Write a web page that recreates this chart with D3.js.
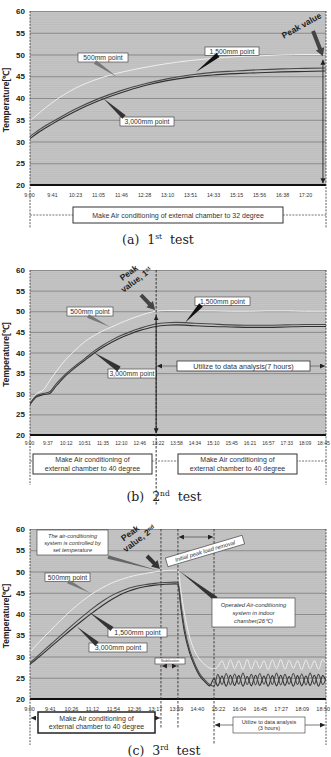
<!DOCTYPE html>
<html>
<head>
<meta charset="utf-8">
<script src="https://cdn.jsdelivr.net/npm/d3@7"></script>
<style>
  body { margin: 0; background: #fff; }
  svg { display: block; }
  text { font-family: "Liberation Sans", Arial, sans-serif; }
</style>
</head>
<body>
<script>
/* Data -------------------------------------------------------------------- */

const yTicks = [20, 25, 30, 35, 40, 45, 50, 55, 60];

// (a) 1st test
const ticksA = ["9:00", "9:41", "10:23", "11:05", "11:46", "12:28", "13:10",
    "13:51", "14:33", "15:15", "15:56", "16:38", "17:20"];
const xA = [0, 0.5, 1, 1.5, 2, 3, 4, 5, 6, 7, 8, 9, 10, 11, 12, 12.9];
const a500 = [34.5, 36.8, 38.9, 40.7, 42.2, 44.4, 45.9, 47, 47.9, 48.6, 49.1, 49.5, 49.7, 49.9, 50, 50];
const a1500 = [31, 32.9, 34.5, 36, 37.4, 39.8, 41.7, 43.2, 44.4, 45.3, 45.9, 46.2, 46.5, 46.7, 46.8, 46.9];
const a3000 = [30.5, 32.4, 34, 35.5, 36.9, 39.3, 41.2, 42.8, 44, 44.8, 45.3, 45.6, 45.8, 46, 46.1, 46.2];

// (b) 2nd test
const ticksB = ["9:00", "9:37", "10:12", "10:51", "11:35", "12:10", "12:46",
    "13:22", "13:58", "14:34", "15:10", "15:45", "16:21", "16:57", "17:33", "18:09", "18:45"];
const xB = [0, 0.4, 0.8, 1.1, 1.5, 2, 2.5, 3, 3.5, 4, 4.5, 5, 5.5, 6, 6.5, 6.9,
    7.5, 8, 9, 10, 11, 12, 13, 14, 15, 16.2];
const b500 = [27.5, 30, 31, 33, 35.5, 38.3, 40.5, 42.5, 44, 45.2, 46.2, 47.2, 48.1, 48.9, 49.6, 50,
    50.2, 50.2, 50.1, 50.1, 50, 50, 50.1, 50.1, 50, 50];
const b1500 = [27.3, 29.5, 30.1, 30.4, 32.5, 34.8, 36.7, 38.4, 40.2, 41.7, 43, 44.1, 45, 45.8, 46.5, 46.9,
    47.2, 47.3, 47.1, 46.9, 46.7, 46.6, 46.6, 46.7, 46.8, 46.8];
const b3000 = [27, 29.2, 29.8, 30, 32, 34.4, 36.3, 38, 39.7, 41.2, 42.5, 43.6, 44.5, 45.3, 45.9, 46.3,
    46.6, 46.7, 46.5, 46.3, 46.2, 46.1, 46.1, 46.2, 46.3, 46.3];

// (c) 3rd test
const ticksC = ["9:00", "9:41", "10:26", "11:12", "11:54", "12:36", "13:17",
    "13:59", "14:40", "15:22", "16:04", "16:45", "17:27", "18:09", "18:50"];
const xC = [0, 0.5, 1, 1.5, 2, 2.5, 3, 3.5, 4, 4.5, 5, 5.5, 6, 6.5, 7, 7.1,
    7.25, 7.4, 7.66, 7.9, 8.13, 8.4, 8.61, 8.82,
    9, 9.2, 9.4, 9.6, 9.8, 10, 10.2, 10.4, 10.6, 10.8, 11, 11.2, 11.4, 11.6, 11.8,
    12, 12.2, 12.4, 12.6, 12.8, 13, 13.2, 13.4, 13.6, 13.8, 14, 14.16];
const c500 = [30.8, 33.5, 36, 38.5, 40.8, 42.9, 44.7, 46.2, 47.4, 48.3, 49, 49.5, 49.9, 50.2, 50.3, 50.3,
    45, 40.5, 34.5, 31.3, 29.4, 28, 27.3, 27,
    27.6, 29, 27, 29.2, 27.1, 29, 26.9, 29.3, 27, 29.1, 27.2, 29, 26.9, 29.2, 27.1,
    29.3, 27, 29.1, 27.2, 29, 26.9, 29.2, 27.1, 29, 27, 29.3, 28.2];
const c1500 = [28.3, 30.5, 32.7, 34.9, 37.1, 39.2, 41.2, 43, 44.5, 45.6, 46.4, 46.9, 47.2, 47.4, 47.5, 47.4,
    42, 37, 31.5, 28.3, 26, 24.4, 23.4, 23,
    25.8, 23.4, 26, 23.3, 25.9, 23.5, 26.1, 23.4, 25.8, 23.3, 26, 23.5, 25.9, 23.4, 26.1,
    23.3, 25.8, 23.5, 26, 23.4, 25.9, 23.3, 26.1, 23.5, 25.8, 23.4, 24.9];
const c3000 = [28, 30, 32.1, 34.2, 36.3, 38.3, 40.2, 42, 43.6, 44.9, 45.8, 46.4, 46.8, 47, 47.1, 47,
    41, 36, 30.8, 27.7, 25.5, 24, 23.1, 24.8,
    23.1, 25.4, 23, 25.6, 23.2, 25.5, 23, 25.3, 23.1, 25.6, 23.2, 25.4, 23, 25.5, 23.1,
    25.6, 23.2, 25.3, 23, 25.5, 23.1, 25.4, 23.2, 25.6, 23, 25.5, 24.2];

/* Helpers ----------------------------------------------------------------- */

const svg = d3.select("body").append("svg")
    .attr("width", 331)
    .attr("height", 757);

svg.append("rect").attr("width", 331).attr("height", 757).attr("fill", "#fff");

const defs = svg.append("defs");
defs.append("marker")
    .attr("id", "arr")
    .attr("viewBox", "0 0 8 8")
    .attr("refX", 8).attr("refY", 4)
    .attr("markerWidth", 5).attr("markerHeight", 5)
    .attr("markerUnits", "userSpaceOnUse")
    .attr("orient", "auto-start-reverse")
    .append("path").attr("d", "M0,0L8,4L0,8Z").attr("fill", "#222");

function wedge(g, bx, by, tx, ty, w, fill) {
    const dx = tx - bx, dy = ty - by, L = Math.hypot(dx, dy);
    const nx = -dy / L * w / 2, ny = dx / L * w / 2;
    g.append("path")
        .attr("d", `M${bx + nx},${by + ny}L${tx},${ty}L${bx - nx},${by - ny}Z`)
        .attr("fill", fill);
}

function blockArrow(g, x1, y1, x2, y2, sw, hw, hl, fill) {
    const dx = x2 - x1, dy = y2 - y1, L = Math.hypot(dx, dy);
    const ux = dx / L, uy = dy / L, nx = -uy, ny = ux;
    const bx = x2 - ux * hl, by = y2 - uy * hl;
    const p = [
        [x1 + nx * sw / 2, y1 + ny * sw / 2],
        [bx + nx * sw / 2, by + ny * sw / 2],
        [bx + nx * hw / 2, by + ny * hw / 2],
        [x2, y2],
        [bx - nx * hw / 2, by - ny * hw / 2],
        [bx - nx * sw / 2, by - ny * sw / 2],
        [x1 - nx * sw / 2, y1 - ny * sw / 2]];
    g.append("path").attr("d", "M" + p.join("L") + "Z").attr("fill", fill);
}

function box(g, x, y, w, h, lines, o = {}) {
    const fs = o.fs || 7, lh = o.lh || fs * 1.15;
    g.append("rect")
        .attr("x", x).attr("y", y).attr("width", w).attr("height", h)
        .attr("fill", "#fff")
        .attr("stroke", o.stroke || "#333")
        .attr("stroke-width", o.sw || 0.6);
    const t = g.append("text")
        .attr("text-anchor", "middle")
        .style("font-size", `${fs}px`)
        .style("font-style", o.italic ? "italic" : "normal")
        .style("font-weight", o.bold ? "bold" : "normal")
        .style("fill", o.color || "#333");
    const y0 = y + h / 2 - (lines.length - 1) * lh / 2 + fs * 0.36;
    lines.forEach((s, i) => {
        t.append("tspan").attr("x", x + w / 2).attr("y", y0 + i * lh).text(s);
    });
}

function arrowLine(g, x1, y1, x2, y2, o = {}) {
    g.append("line")
        .attr("x1", x1).attr("y1", y1).attr("x2", x2).attr("y2", y2)
        .attr("stroke", o.stroke || "#222")
        .attr("stroke-width", o.sw || 0.8)
        .attr("stroke-dasharray", o.dash || null)
        .attr("marker-end", "url(#arr)")
        .attr("marker-start", o.both === false ? null : "url(#arr)");
}

function vdash(g, x, y1, y2, dash = "2,1.5", sw = 0.8) {
    g.append("line")
        .attr("x1", x).attr("x2", x).attr("y1", y1).attr("y2", y2)
        .attr("stroke", "#333").attr("stroke-width", sw)
        .attr("stroke-dasharray", dash);
}

function caption(cx, y, letter, num, sup) {
    const t = svg.append("text")
        .attr("x", cx).attr("y", y)
        .attr("text-anchor", "middle")
        .style("font-family", "'DejaVu Serif', 'Liberation Serif', serif")
        .style("font-size", "12.5px")
        .style("fill", "#222")
        .attr("xml:space", "preserve");
    t.append("tspan").text(`(${letter})  ${num}`);
    t.append("tspan").attr("dy", -5).style("font-size", "7.5px").text(sup);
    t.append("tspan").attr("dy", 5).text("  test");
}

/* Panel ------------------------------------------------------------------- */

function drawPanel(p) {
    const left = 30, right = 326;
    const x = d3.scaleLinear().domain([0, p.ticks.length - 1]).range(p.xRange);
    const y = d3.scaleLinear().domain([20, 60]).range([p.bottom, p.top]);
    const g = svg.append("g");

    const clipId = `clip-${p.id}`;
    defs.append("clipPath").attr("id", clipId)
        .append("rect")
        .attr("x", left).attr("y", p.top)
        .attr("width", right - left).attr("height", p.bottom - p.top);

    // Plot background
    g.append("rect")
        .attr("x", left).attr("y", p.top)
        .attr("width", right - left).attr("height", p.bottom - p.top)
        .attr("fill", "#c5c5c5");

    // Fine stripes
    g.append("g")
        .attr("transform", `translate(${left},0)`)
        .call(d3.axisLeft(y).tickValues(d3.range(20.5, 60, 0.5)).tickSize(-(right - left)).tickFormat(""))
        .call(a => a.select(".domain").remove())
        .call(a => a.selectAll("line").attr("stroke", "#b6b6b6").attr("stroke-width", 0.5));

    // Major gridlines
    g.append("g")
        .attr("transform", `translate(${left},0)`)
        .call(d3.axisLeft(y).tickValues(yTicks.slice(1)).tickSize(-(right - left)).tickFormat(""))
        .call(a => a.select(".domain").remove())
        .call(a => a.selectAll("line").attr("stroke", "#7c7c7c").attr("stroke-width", 0.8));

    // Y-axis labels
    g.append("g")
        .attr("transform", `translate(${left - 5},0)`)
        .call(d3.axisLeft(y).tickValues(yTicks).tickSize(0).tickPadding(0))
        .call(a => a.select(".domain").remove())
        .call(a => a.selectAll("text")
            .style("font-family", "'Liberation Sans', Arial, sans-serif")
            .style("font-size", "8px")
            .style("font-weight", "bold")
            .attr("fill", "#222"));

    // Y-axis title
    g.append("text")
        .attr("transform", `translate(8.5,${(p.top + p.bottom) / 2 + 2}) rotate(-90)`)
        .attr("text-anchor", "middle")
        .style("font-size", "8.5px")
        .style("font-weight", "bold")
        .style("fill", "#222")
        .text("Temperature[℃]");

    // X-axis labels
    g.append("g")
        .attr("transform", `translate(0,${p.labelY})`)
        .call(d3.axisBottom(x).tickValues(d3.range(p.ticks.length)).tickSize(0).tickPadding(0)
            .tickFormat(i => p.ticks[i]))
        .call(a => a.select(".domain").remove())
        .call(a => a.selectAll("text")
            .attr("dy", "0.32em")
            .style("font-family", "'Liberation Sans', Arial, sans-serif")
            .style("font-size", `${p.tickSize}px`)
            .attr("fill", "#333"));

    // Series
    const lines = g.append("g").attr("clip-path", `url(#${clipId})`);
    const line = d3.line()
        .x((d, i) => x(p.xs[i]))
        .y(d => y(d))
        .curve(d3.curveMonotoneX);

    lines.append("path").attr("d", line(p.s500))
        .attr("fill", "none").attr("stroke", "#eeeeee").attr("stroke-width", 1);

    [[p.s3000, "#303030"], [p.s1500, "#4a4a4a"]].forEach(([s, c]) => {
        lines.append("path").attr("d", line(s))
            .attr("fill", "none").attr("stroke", c).attr("stroke-width", 1.1);
    });

    // Bottom axis line
    g.append("line")
        .attr("x1", left).attr("x2", right)
        .attr("y1", y(20)).attr("y2", y(20))
        .attr("stroke", "#111").attr("stroke-width", 2.2);

    // Plot edges
    vdash(g, left, p.top, p.extBottom, "2,1.2", 0.8);
    vdash(g, right, p.top, p.extBottom, "2,1.2", 0.8);

    return { g, x, y };
}

/* (a) 1st test ------------------------------------------------------------ */

{
    const { g, x, y } = drawPanel({
        id: "a", top: 11, bottom: 185, labelY: 195, extBottom: 228, tickSize: 5.3,
        xRange: [29, 305], ticks: ticksA, xs: xA, s500: a500, s1500: a1500, s3000: a3000
    });

    box(g, 78, 53, 50, 9, ["500mm point"], { fs: 6.8 });
    wedge(g, 95, 62, 117, 77, 4, "#777");
    box(g, 205, 47, 54, 8.5, ["1,500mm point"], { fs: 6.8 });
    wedge(g, 218, 55, 196, 72, 5, "#111");
    box(g, 120, 117, 54, 9, ["3,000mm point"], { fs: 6.8 });
    wedge(g, 124, 117, 103, 98, 5, "#333");

    g.append("text")
        .attr("transform", "translate(303,28) rotate(-29)")
        .attr("text-anchor", "middle")
        .style("font-size", "8.5px").style("font-weight", "bold").style("fill", "#222")
        .text("Peak value");
    blockArrow(g, 313, 31, x(12.78), y(49.6), 4, 9, 8, "#444");
    arrowLine(g, x(12.78), y(48.8), x(12.78), y(20.4), { sw: 0.9 });

    g.append("line").attr("x1", 30).attr("x2", 326).attr("y1", 215).attr("y2", 215)
        .attr("stroke", "#555").attr("stroke-width", 0.8).attr("stroke-dasharray", "2,1.2");
    box(g, 73, 207, 210, 16, ["Make Air conditioning of external chamber to 32 degree"],
        { fs: 7, sw: 1 });

    caption(158, 244, "a", "1", "st");
}

/* (b) 2nd test ------------------------------------------------------------ */

{
    const { g, x, y } = drawPanel({
        id: "b", top: 270, bottom: 435, labelY: 443, extBottom: 485, tickSize: 5,
        xRange: [29, 323], ticks: ticksB, xs: xB, s500: b500, s1500: b1500, s3000: b3000
    });

    const xp = x(6.92);
    vdash(g, xp, 270, 506, "2.5,1.5", 1);

    box(g, 67, 307, 46, 9, ["500mm point"], { fs: 6.8 });
    wedge(g, 88, 316, 110, 327, 4, "#777");
    box(g, 195, 297, 55, 8.5, ["1,500mm point"], { fs: 6.8 });
    wedge(g, 201, 305, 185, y(47.2), 5, "#111");
    box(g, 108, 369, 48, 9, ["3,000mm point"], { fs: 6.8 });
    wedge(g, 119, 369, 94, y(40), 6, "#333");

    const pk = g.append("g").attr("transform", "translate(134,280) rotate(-36)");
    pk.append("text").attr("x", 0).attr("y", -6).attr("text-anchor", "middle")
        .style("font-size", "8.5px").style("font-weight", "bold").style("fill", "#222")
        .text("Peak");
    const pv = pk.append("text").attr("x", 2).attr("y", 4).attr("text-anchor", "middle")
        .style("font-size", "8.5px").style("font-weight", "bold").style("fill", "#222");
    pv.append("tspan").text("value, 1");
    pv.append("tspan").attr("dy", -3).style("font-size", "5.5px").text("st");
    blockArrow(g, 141, 295, xp - 1, y(50.3), 4, 9, 8, "#444");
    arrowLine(g, xp, y(49), xp, y(20.4), { sw: 1 });

    arrowLine(g, xp + 1, 366, 325, 366, { stroke: "#666", sw: 0.8 });
    box(g, 177, 361, 133, 10, ["Utilize to data analysis(7 hours)"], { fs: 7.2, sw: 0.8 });

    g.append("line").attr("x1", 30).attr("x2", 326).attr("y1", 461).attr("y2", 461)
        .attr("stroke", "#555").attr("stroke-width", 0.8).attr("stroke-dasharray", "2,1.2");
    const lab = ["Make Air conditioning of", "external chamber to 40 degree"];
    box(g, 33, 454, 119, 20, lab, { fs: 7, sw: 1 });
    box(g, 178, 454, 119, 20, lab, { fs: 7, sw: 1 });

    caption(164, 501, "b", "2", "nd");
}

/* (c) 3rd test ------------------------------------------------------------ */

{
    const { g, x, y } = drawPanel({
        id: "c", top: 529, bottom: 699, labelY: 709, extBottom: 745, tickSize: 5.5,
        xRange: [29, 322.7], ticks: ticksC, xs: xC, s500: c500, s1500: c1500, s3000: c3000
    });

    const xa = x(6.29), xb = x(7.1), xc = x(8.82);
    vdash(g, xa, 529, 729, "2.5,1.5", 0.9);
    vdash(g, xb, 529, 729, "2.5,1.5", 0.9);
    vdash(g, xc, 529, 745, "2.5,1.5", 0.9);

    arrowLine(g, xb + 1, 537, xc - 1, 537, { stroke: "#555", sw: 0.8 });

    box(g, 37, 530, 71, 25, ["The air-conditioning", "system is controlled by", "set temperature"],
        { fs: 5.6, italic: true, lh: 7 });
    wedge(g, 108, 557, xa - 2, y(50.2), 3.5, "#666");

    const pk = g.append("g").attr("transform", "translate(137,539) rotate(-37)");
    pk.append("text").attr("x", -2).attr("y", -6).attr("text-anchor", "middle")
        .style("font-size", "8.5px").style("font-weight", "bold").style("fill", "#222")
        .text("Peak");
    const pv = pk.append("text").attr("x", 2).attr("y", 4).attr("text-anchor", "middle")
        .style("font-size", "8.5px").style("font-weight", "bold").style("fill", "#222");
    pv.append("tspan").text("value, 2");
    pv.append("tspan").attr("dy", -3).style("font-size", "5.5px").text("nd");
    blockArrow(g, 147, 556, xa - 1, y(50.6), 4, 9, 8, "#333");

    const ip = g.append("g").attr("transform", "translate(205,551) rotate(-16.5)");
    box(ip, -40, -4.5, 80, 9, ["Initial peak load removal"], { fs: 5.8, italic: true });

    box(g, 45, 573, 45, 8.5, ["500mm point"], { fs: 6.8 });
    wedge(g, 68, 581.5, 90, 593, 4, "#777");
    box(g, 108, 628, 59, 9, ["1,500mm point"], { fs: 7 });
    wedge(g, 112, 629, 89, y(40.5), 5, "#333");
    box(g, 89, 643, 58, 9, ["3,000mm point"], { fs: 7 });
    wedge(g, 97, 644, 77, y(37), 5, "#333");

    wedge(g, 216, 599, xb + 2, y(50), 5, "#333");
    box(g, 212, 598, 83, 29, ["Operated Air-conditioning", "system in indoor", "chamber(26℃)"],
        { fs: 5.8, italic: true, lh: 8 });

    box(g, 155, 658, 30, 6, ["Stabilization"], { fs: 3.4 });
    arrowLine(g, xa + 1, 666, xb - 1, 666, { stroke: "#666", sw: 0.5 });

    arrowLine(g, 31, 718, xa - 1, 718, { stroke: "#555", sw: 0.8, dash: "2,1.2" });
    box(g, 38, 712, 117, 21, ["Make Air conditioning of", "external chamber to 40 degree"],
        { fs: 7, sw: 1.5, stroke: "#222" });

    arrowLine(g, xc + 1, 725, 325, 725, { stroke: "#555", sw: 0.8 });
    box(g, 233, 717, 72, 16, ["Utilize to data analysis", "(3 hours)"], { fs: 5.5, lh: 6.5 });

    caption(164, 755, "c", "3", "rd");
}
</script>
</body>
</html>
